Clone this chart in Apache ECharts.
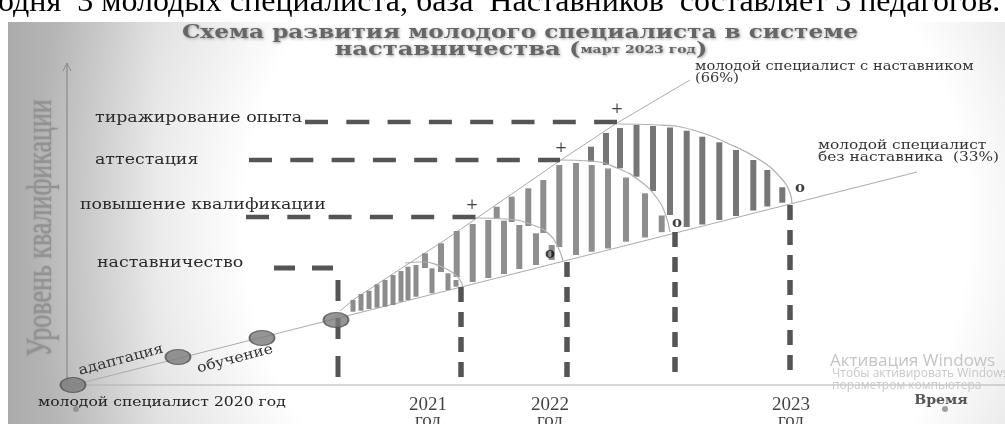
<!DOCTYPE html>
<html><head><meta charset="utf-8">
<script src="https://cdn.jsdelivr.net/npm/echarts@6/dist/echarts.min.js"></script>
<style>html,body{margin:0;padding:0;background:#fff}#c{width:1005px;height:424px}</style>
</head><body><div id="c"></div>
<script>
// ---- data (time units on x, qualification level on y; y grows downward on this inverted scale) ----
const lowerLine = [[73,385],[917,172]];                 // specialist without mentor
const upperLine = [[340,311],[353,300],[408,264],[445,240],[561,160],[617,123],[690,80]]; // with mentor
const arc1 = [[405,263],[423,262],[440,266],[453,273],[460,280],[463,287]];
const arc2 = [[476,218],[506,219],[533,225],[550,235],[558,247],[563,261]];
const arc3 = [[560,160],[590,161],[617,168],[640,181],[657,198],[665,213],[670,232]];
const arc4 = [[618,124],[660,125],[693,130],[727,143],[760,160],[780,177],[790,193],[792,204]];

// bars: [time, top level, bottom level]
const bars1 = [[353,300,311.7],[361,294,310.7],[369,290.7,309],[377,284.3,307.7],[385,280,306.7],[393,275,305],[401,271,301.7],[408,266.7,300],[416,265,296.7],[432,268.3,293.3],[448,273.3,290],[456,280,286.7]];
const bars2 = [[425,253.3,268],[441,243.3,272],[456.7,231,277],[472.7,224,282],[488.3,220,278],[504,220.7,274],[519.3,225,269],[536,233.3,265],[551.7,245,260]];
const bars3 = [[496.7,206.7,218],[511.7,196.7,222],[528.3,188.3,226],[543.3,180,233],[559.3,165,247],[576,163,255],[591.7,165,251.7],[608,168.5,248.5],[626,177.5,241.7],[645,193.3,237.5],[661.7,215.5,232.2]];
const bars4 = [[591,146.7,161.7],[606,133,165],[620,128,168.3],[636.5,125,176.7],[653,126,191],[670,127.5,215],[686.7,130.7,227],[702.3,136.7,224.5],[719.3,142.3,220],[736,150,216],[753.3,160,210.5],[767.3,170,206.5],[782.3,187.3,202.7]];

const levelTiraz = [[305,122],[617,122]];
const levelAttest = [[249,160],[560,160]];
const levelPovysh = [[246,217],[477,217]];
const levelNastav = [[274,268],[338,268],[338,378]];
const year2021 = [[461,287],[461,385]];
const year2022 = [[567,262],[567,385]];
const yearMid = [[675,232],[675,380]];
const year2023 = [[790,205],[790,380]];

const stagePoints = [[73,385],[178,357],[262,338],[336,320]];
const smallDots = [[76,409],[945,409]];
const plusMarks = [[617,109],[561,148],[472,205]];
const zeroMarks = [[550,254],[677,223],[800,188]];
const yearLabels = [['2021',428,413],['2022',550,413],['2023',791,413]];
const axisY = [[67,385],[67,63]];
const axisX = [[67,385],[1005,385]];
const arrowHead = [[63,71],[67,63],[71,71]];

const levelLabels = [
  ['тиражирование опыта',95,118],
  ['аттестация',95,160],
  ['повышение квалификации',80,205],
  ['наставничество',97,263]
];

const chart = echarts.init(document.getElementById('c'), null, {renderer:'canvas'});
const SERIF = '"DejaVu Serif", serif';

function lineS(data, color, width, type, z, smooth){
  return {type:'line', data:data, symbol:'none', smooth:smooth||false, silent:true, z:z||2,
    lineStyle:{color:color, width:width, type:type||'solid', cap:'butt'}, animation:false};
}
function barS(data, color, w, z){
  return {type:'custom', data:data, z:z, silent:true, animation:false,
    renderItem:function(params, api){
      const a = api.coord([api.value(0), api.value(1)]);
      const b = api.coord([api.value(0), api.value(2)]);
      return {type:'rect', shape:{x:a[0]-w/2, y:a[1], width:w, height:b[1]-a[1]}, style:{fill:color}};
    }};
}
const shadow = {textShadowColor:'rgba(0,0,0,0.35)', textShadowBlur:3, textShadowOffsetX:1, textShadowOffsetY:1};

const graphic = [
  {type:'rect', shape:{x:8,y:22,width:997,height:402}, z:-10, silent:true, style:{fill:'#ffffff'}},
  {type:'rect', shape:{x:8,y:22,width:997,height:402}, z:-9, silent:true,
   style:{fill:{type:'radial', x:0.6, y:0.5, r:1.45, colorStops:[{offset:0,color:'rgba(0,0,0,0)'},{offset:0.62,color:'rgba(0,0,0,0)'},{offset:1,color:'rgba(0,0,0,0.2)'}]}}},
  {type:'rect', shape:{x:8,y:22,width:150,height:402}, z:-8, silent:true,
   style:{fill:{type:'linear', x:0, y:0, x2:1, y2:0, colorStops:[{offset:0,color:'rgba(0,0,0,0.16)'},{offset:1,color:'rgba(0,0,0,0)'}]}}},
  // top line of page text
  {type:'text', x:-2, y:19, z:10, style:{text:'одня  3 молодых специалиста, база  Наставников  составляет 3 педагогов.', font:'32px "Liberation Serif", serif', fill:'#000', textVerticalAlign:'bottom'}},
  // title
  {type:'text', x:520, y:33, scaleX:1.22, z:10, style:Object.assign({text:'Схема развития молодого специалиста в системе', font:'bold 19px '+SERIF, fill:'#666666', textAlign:'center', textVerticalAlign:'middle'}, shadow)},
  {type:'text', x:521, y:50, scaleX:1.27, z:10, style:{rich:{a:Object.assign({font:'bold 19px '+SERIF, fill:'#666666'}, shadow), b:Object.assign({font:'bold 11px '+SERIF, fill:'#666666'}, shadow)}, text:'{a|наставничества (}{b|март 2023 год}{a|)}', textAlign:'center', textVerticalAlign:'middle'}},
  // y axis title
  {type:'text', x:41, y:228, rotation:Math.PI/2, scaleY:1.4, z:10, style:Object.assign({text:'Уровень квалификации', font:'26px "Liberation Serif", serif', fill:'#929292', textAlign:'center', textVerticalAlign:'middle'}, {textShadowColor:'rgba(0,0,0,0.2)', textShadowBlur:2})},
  // along-line labels
  {type:'text', x:121, y:360, rotation:0.26, scaleX:1.12, z:10, style:{text:'адаптация', font:'14px '+SERIF, fill:'#333', textAlign:'center', textVerticalAlign:'middle'}},
  {type:'text', x:235, y:359, rotation:0.26, scaleX:1.12, z:10, style:{text:'обучение', font:'14px '+SERIF, fill:'#333', textAlign:'center', textVerticalAlign:'middle'}},
  {type:'text', x:38, y:403, scaleX:1.2, z:10, style:{text:'молодой специалист 2020 год', font:'13px '+SERIF, fill:'#222', textVerticalAlign:'middle'}},
  {type:'text', x:695, y:73, scaleX:1.22, z:10, style:{text:'молодой специалист с наставником\n(66%)', font:'12px '+SERIF, fill:'#333', textVerticalAlign:'middle', lineHeight:12}},
  {type:'text', x:818, y:152, scaleX:1.28, z:10, style:{text:'молодой специалист\nбез наставника  (33%)', font:'12px '+SERIF, fill:'#333', textVerticalAlign:'middle', lineHeight:12.5}},
  {type:'text', x:941, y:401, scaleX:1.18, z:10, style:{text:'Время', font:'bold 12px '+SERIF, fill:'#555', textAlign:'center', textVerticalAlign:'middle'}},
  {type:'text', x:830, y:361, z:10, style:{text:'Активация Windows', font:'17px "Open Sans", sans-serif', fill:'#c4c4c4', textVerticalAlign:'middle'}},
  {type:'text', x:832, y:374, z:10, style:{text:'Чтобы активировать Windows, перейдите в раздел', font:'12px "Open Sans", sans-serif', fill:'#c8c8c8', textVerticalAlign:'middle'}},
  {type:'text', x:832, y:386, z:10, style:{text:'пораметром компьютера', font:'12px "Open Sans", sans-serif', fill:'#c8c8c8', textVerticalAlign:'middle'}}
];
levelLabels.forEach(function(l){
  graphic.push({type:'text', x:l[1], y:l[2], scaleX:1.16, z:10, style:{text:l[0], font:'15px '+SERIF, fill:'#2a2a2a', textVerticalAlign:'middle'}});
});

const series = [
  lineS(axisY, '#8a8a8a', 1.2, 'solid', 2),
  lineS(arrowHead, '#8a8a8a', 1, 'solid', 2),
  lineS(axisX, '#b0b0b0', 1, 'solid', 2),
  lineS(lowerLine, '#ababab', 1, 'solid', 3),
  lineS(upperLine, '#ababab', 1, 'solid', 3),
  barS(bars4, '#767676', 6, 4),
  barS(bars3, '#8e8e8e', 6, 5),
  barS(bars2, '#8e8e8e', 6, 6),
  barS(bars1, '#8c8c8c', 5, 7),
  lineS(arc4, '#b0b0b0', 1.2, 'solid', 8, true),
  lineS(arc3, '#b0b0b0', 1.2, 'solid', 8, true),
  lineS(arc2, '#b0b0b0', 1.2, 'solid', 8, true),
  lineS(arc1, '#b0b0b0', 1.2, 'solid', 8, true),
  lineS(levelTiraz, '#555', 4.5, [23,18.3], 9),
  lineS(levelAttest, '#555', 4.5, [23,18.3], 9),
  lineS(levelPovysh, '#555', 4.5, [23,18.3], 9),
  lineS(levelNastav, '#555', 5, [21,17], 9),
  lineS(year2021, '#555', 5.5, [15,10], 9),
  lineS(year2022, '#555', 5.5, [15,10], 9),
  lineS(yearMid, '#555', 5.5, [15,10], 9),
  lineS(year2023, '#555', 5.5, [15,10], 9),
  {type:'scatter', data:stagePoints, symbol:'circle', symbolSize:[25,15], z:11, silent:true, animation:false,
   itemStyle:{color:'#7a7a7a', borderColor:'#505050', borderWidth:1.5}},
  {type:'scatter', data:smallDots, symbol:'circle', symbolSize:6, z:11, silent:true, animation:false,
   itemStyle:{color:'#8a8a8a'}},
  {type:'scatter', data:plusMarks, symbolSize:1, z:12, silent:true, animation:false, itemStyle:{color:'rgba(0,0,0,0)'},
   label:{show:true, position:'inside', formatter:'+', fontSize:15, fontFamily:'DejaVu Serif', color:'#111'}},
  {type:'scatter', data:zeroMarks, symbolSize:1, z:12, silent:true, animation:false, itemStyle:{color:'rgba(0,0,0,0)'},
   label:{show:true, position:'inside', formatter:'o', fontSize:15, fontWeight:'bold', fontFamily:'DejaVu Serif', color:'#111'}},
  {type:'scatter', data:yearLabels.map(function(y){return {value:[y[1],y[2]], name:y[0]};}), symbolSize:1, z:12, silent:true, animation:false, itemStyle:{color:'rgba(0,0,0,0)'},
   label:{show:true, position:'inside', formatter:function(p){return p.name+'\nгод';}, fontSize:19, lineHeight:16, fontFamily:'Liberation Serif', color:'#111'}}
];

chart.setOption({
  animation:false,
  backgroundColor:'#ffffff',
  grid:{left:0,right:0,top:0,bottom:0},
  xAxis:{type:'value', min:0, max:1005, show:false},
  yAxis:{type:'value', min:0, max:424, inverse:true, show:false},
  graphic:graphic,
  series:series
});
</script></body></html>
